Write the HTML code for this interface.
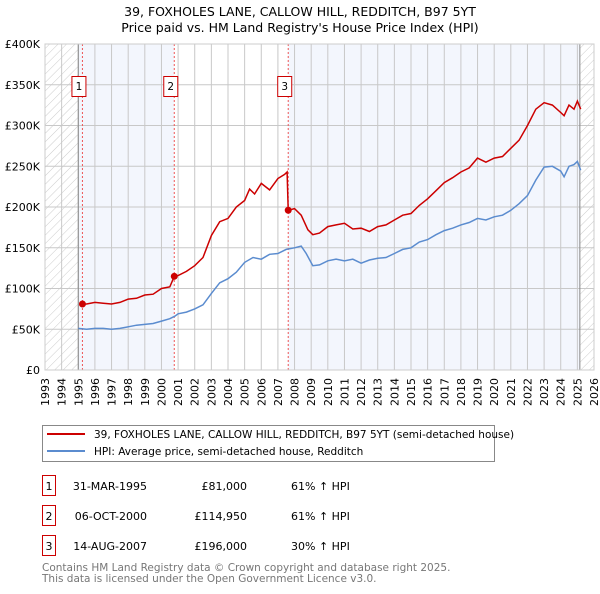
<!DOCTYPE html>
<html><head><meta charset="utf-8"><style>
body{margin:0;background:#fff;width:600px;height:590px;overflow:hidden;font-family:"DejaVu Sans","Liberation Sans",sans-serif;}
svg text{font-family:"DejaVu Sans","Liberation Sans",sans-serif;}
</style></head><body>
<svg id="chart" width="600" height="590" xmlns="http://www.w3.org/2000/svg">
<defs><pattern id="hatch" width="6" height="6" patternUnits="userSpaceOnUse" patternTransform="rotate(45)"><line x1="0" y1="0" x2="0" y2="6" stroke="#ccc" stroke-width="1"/></pattern></defs>
<text x="300" y="16" text-anchor="middle" font-size="12.5">39, FOXHOLES LANE, CALLOW HILL, REDDITCH, B97 5YT</text>
<text x="300" y="32" text-anchor="middle" font-size="12.5">Price paid vs. HM Land Registry's House Price Index (HPI)</text>
<g id="plot"></g>
<g>
<rect x="42.5" y="425.5" width="452" height="36" fill="#fff" stroke="#888"/>
<line x1="47" y1="434" x2="85" y2="434" stroke="#cc0000" stroke-width="2"/>
<text x="94" y="438" font-size="10.5">39, FOXHOLES LANE, CALLOW HILL, REDDITCH, B97 5YT (semi-detached house)</text>
<line x1="47" y1="451" x2="85" y2="451" stroke="#5b8ccf" stroke-width="2"/>
<text x="94" y="455" font-size="10.5">HPI: Average price, semi-detached house, Redditch</text>
</g>
<g font-size="11">
<rect x="42.5" y="475.5" width="13" height="20" fill="#fff" stroke="#cc0000"/><text x="49" y="490" text-anchor="middle">1</text>
<text x="147" y="490" text-anchor="end">31-MAR-1995</text><text x="247" y="490" text-anchor="end">£81,000</text><text x="291" y="490">61% ↑ HPI</text>
<rect x="42.5" y="505.5" width="13" height="20" fill="#fff" stroke="#cc0000"/><text x="49" y="520" text-anchor="middle">2</text>
<text x="147" y="520" text-anchor="end">06-OCT-2000</text><text x="247" y="520" text-anchor="end">£114,950</text><text x="291" y="520">61% ↑ HPI</text>
<rect x="42.5" y="535.5" width="13" height="20" fill="#fff" stroke="#cc0000"/><text x="49" y="550" text-anchor="middle">3</text>
<text x="147" y="550" text-anchor="end">14-AUG-2007</text><text x="247" y="550" text-anchor="end">£196,000</text><text x="291" y="550">30% ↑ HPI</text>
</g>
<text x="42" y="571" font-size="10.5" fill="#777">Contains HM Land Registry data © Crown copyright and database right 2025.</text>
<text x="42" y="582" font-size="10.5" fill="#777">This data is licensed under the Open Government Licence v3.0.</text>
</svg>
<script>
const years=[1993,1994,1995,1996,1997,1998,1999,2000,2001,2002,2003,2004,2005,2006,2007,2008,2009,2010,2011,2012,2013,2014,2015,2016,2017,2018,2019,2020,2021,2022,2023,2024,2025,2026];
const yTicks=[0,50000,100000,150000,200000,250000,300000,350000,400000];
const yTickLabels=["£0","£50K","£100K","£150K","£200K","£250K","£300K","£350K","£400K"];
const hpiDates=[1995.0,1995.5,1996,1996.5,1997,1997.5,1998,1998.5,1999,1999.5,2000,2000.5,2000.8,2001,2001.5,2002,2002.5,2003,2003.5,2004,2004.5,2005,2005.5,2006,2006.5,2007,2007.5,2008,2008.4,2008.7,2009.1,2009.5,2010,2010.5,2011,2011.5,2012,2012.5,2013,2013.5,2014,2014.5,2015,2015.5,2016,2016.5,2017,2017.5,2018,2018.5,2019,2019.5,2020,2020.5,2021,2021.5,2022,2022.5,2023,2023.5,2024,2024.2,2024.5,2024.8,2025,2025.2];
const hpiValues=[51,50,51,51,50,51,53,55,56,57,60,63,66,69,71,75,80,94,107,112,120,132,138,136,142,143,148,150,152,143,128,129,134,136,134,136,131,135,137,138,143,148,150,157,160,166,171,174,178,181,186,184,188,190,196,204,214,233,249,250,244,237,250,252,256,245];
const propDates=[1995.25,1995.5,1996,1996.5,1997,1997.5,1998,1998.5,1999,1999.5,2000,2000.5,2000.77,2001,2001.5,2002,2002.5,2003,2003.5,2004,2004.5,2005,2005.3,2005.6,2006,2006.5,2007,2007.4,2007.55,2007.62,2008,2008.4,2008.8,2009.1,2009.5,2010,2010.5,2011,2011.5,2012,2012.5,2013,2013.5,2014,2014.5,2015,2015.5,2016,2016.5,2017,2017.5,2018,2018.5,2019,2019.5,2020,2020.5,2021,2021.5,2022,2022.5,2023,2023.5,2024,2024.2,2024.5,2024.8,2025,2025.2];
const propValues=[81,81,83,82,81,83,87,88,92,93,100,102,115,116,121,128,138,165,182,186,200,208,222,216,229,221,235,240,243,196,198,190,172,166,168,176,178,180,173,174,170,176,178,184,190,192,202,210,220,230,236,243,248,260,255,260,262,272,282,300,320,328,325,316,312,325,320,330,320];
const saleDates=[1995.25,2000.77,2007.62];
const saleValues=[81000,114950,196000];
const saleLabels=["1","2","3"];

const NS="http://www.w3.org/2000/svg";
const X0=45,X1=594,Y0=370,Y1=44;
const xs=y=>X0+(y-1993)/(2026-1993)*(X1-X0);
const ys=v=>Y0-v/400000*(Y0-Y1);
const plot=document.getElementById('plot');
function mk(tag,attrs,parent){const e=document.createElementNS(NS,tag);for(const k in attrs)e.setAttribute(k,attrs[k]);(parent||plot).appendChild(e);return e;}
const dataEnd=2025.15;
mk('rect',{x:X0,y:Y1,width:X1-X0,height:Y0-Y1,fill:'#fff'});
let b1=mk('rect',{x:xs(1995),y:Y1,width:xs(saleDates[1])-xs(1995),height:Y0-Y1,fill:'#f3f6fd'});


let b2=mk('rect',{x:xs(saleDates[2]),y:Y1,width:xs(dataEnd)-xs(saleDates[2]),height:Y0-Y1,fill:'#f3f6fd'});


let h1=mk('rect',{x:X0,y:Y1,width:xs(1995)-X0,height:Y0-Y1,fill:'url(#hatch)'});


let h2=mk('rect',{x:xs(dataEnd),y:Y1,width:X1-xs(dataEnd),height:Y0-Y1,fill:'url(#hatch)'});


years.forEach(y=>{mk('line',{x1:xs(y),x2:xs(y),y1:Y1,y2:Y0,stroke:'#c8c8c8','stroke-width':1});
 const t=mk('text',{x:0,y:0,'font-size':11,'text-anchor':'end',transform:`translate(${xs(y)+4},${Y0+8}) rotate(-90)`});
 
 
 t.textContent=y;});
yTicks.forEach((v,i)=>{mk('line',{x1:X0,x2:X1,y1:ys(v),y2:ys(v),stroke:'#c8c8c8','stroke-width':1});
 const t=mk('text',{x:X0-5,y:ys(v)+4,'font-size':11,'text-anchor':'end'});
 
 
 t.textContent=yTickLabels[i];});
mk('line',{x1:xs(1995),x2:xs(1995),y1:Y1,y2:Y0,stroke:'#888'});
mk('line',{x1:xs(dataEnd),x2:xs(dataEnd),y1:Y1,y2:Y0,stroke:'#888'});
saleDates.forEach((d,i)=>{const l=mk('line',{x1:xs(d),x2:xs(d),y1:Y1,y2:Y0,stroke:'#ee5555','stroke-dasharray':'2,2'});
 
 });
const pts=(d,v)=>d.map((x,i)=>xs(x).toFixed(1)+','+ys(v[i]*1000).toFixed(1)).join(' ');
const hl=mk('polyline',{points:pts(hpiDates,hpiValues),fill:'none',stroke:'#5b8ccf','stroke-width':1.5});


const pl=mk('polyline',{points:pts(propDates,propValues),fill:'none',stroke:'#cc0000','stroke-width':1.5});


saleDates.forEach((d,i)=>{const c=mk('circle',{cx:xs(d),cy:ys(saleValues[i]),r:3.5,fill:'#cc0000'});
 
 
 const bx=xs(d)-5.5;
 const r=mk('rect',{x:bx-5,y:76.5,width:14,height:20,fill:'#fff',stroke:'#cc0000'});
 
 
 const t=mk('text',{x:bx+2,y:90,'font-size':10.5,'text-anchor':'middle'});
 
 
 t.textContent=saleLabels[i];});
mk('rect',{x:X0,y:Y1,width:X1-X0,height:Y0-Y1,fill:'none',stroke:'#ccc'});
</script>
</body></html>
